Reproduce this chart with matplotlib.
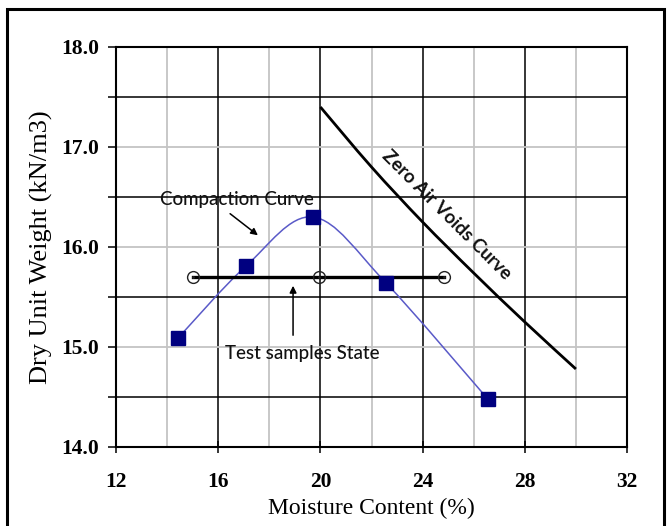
import matplotlib
matplotlib.use("Agg")
import matplotlib.pyplot as plt
from matplotlib.path import Path
from matplotlib.patches import PathPatch, Rectangle

# compaction test points
moisture = [14.43, 17.09, 19.71, 22.57, 26.55]
dry_weight = [15.09, 15.81, 16.30, 15.64, 14.48]

# test samples state
sample_moisture = [15.0, 19.95, 24.85]
sample_weight = [15.70, 15.70, 15.70]

# zero air voids curve
zav_moisture = [20, 22, 24, 26, 28, 30]
zav_weight = [17.40, 16.80, 16.25, 15.74, 15.25, 14.78]

xticks = [12, 16, 20, 24, 28, 32]
yticks = [14.0, 15.0, 16.0, 17.0, 18.0]


def smooth_path(xs, ys):
    # Excel-style smoothed line as cubic bezier segments
    pts = list(zip(xs, ys))
    ext = [pts[0]] + pts + [pts[-1]]
    verts = [pts[0]]
    codes = [Path.MOVETO]
    for i in range(1, len(ext) - 2):
        p0, p1, p2, p3 = ext[i - 1], ext[i], ext[i + 1], ext[i + 2]
        c1 = (p1[0] + (p2[0] - p0[0]) / 6, p1[1] + (p2[1] - p0[1]) / 6)
        c2 = (p2[0] - (p3[0] - p1[0]) / 6, p2[1] - (p3[1] - p1[1]) / 6)
        verts += [c1, c2, p2]
        codes += [Path.CURVE4] * 3
    return Path(verts, codes)


fig = plt.figure(figsize=(6.71, 5.26), dpi=100)
ax = fig.add_axes([116 / 671, 1 - 447 / 526, 511 / 671, 400 / 526])

ax.set_xlim(12, 32)
ax.set_ylim(14, 18)

ax.set_xticks(xticks)
ax.set_xticks([14, 18, 22, 26, 30], minor=True)
ax.set_yticks(yticks)
ax.set_yticks([14.5, 15.5, 16.5, 17.5], minor=True)
ax.set_yticklabels([f"{v:.1f}" for v in yticks])

ax.grid(True, axis="x", which="major", color="black", lw=1.1)
ax.grid(True, axis="x", which="minor", color="#c4c4c4", lw=1.3)
ax.grid(True, axis="y", which="major", color="#c4c4c4", lw=1.3)
ax.grid(True, axis="y", which="minor", color="black", lw=1.1)
ax.set_axisbelow(True)

ax.tick_params(axis="x", which="major", direction="inout", length=8, width=1.1, pad=14)
ax.tick_params(axis="x", which="minor", length=0)
ax.tick_params(axis="y", which="both", direction="out", length=6, width=1.1, pad=6)
for lab in ax.get_xticklabels():
    lab.set_family("Liberation Serif")
    lab.set_fontsize(15.5)
    lab.set_fontweight("bold")
for lab in ax.get_yticklabels():
    lab.set_family("Liberation Serif")
    lab.set_fontsize(15.5)
    lab.set_fontweight("bold")

for s in ax.spines.values():
    s.set_linewidth(1.5)

ax.set_xlabel("Moisture Content (%)", family="Liberation Serif", fontsize=17, labelpad=4)
ax.set_ylabel("Dry Unit Weight (kN/m3)", family="Liberation Serif", fontsize=19, labelpad=6)

# compaction curve
ax.add_patch(PathPatch(smooth_path(moisture, dry_weight), fill=False,
                       edgecolor="#5a5ac8", lw=1.1, zorder=3))
ax.plot(moisture, dry_weight, ls="none", marker="s", ms=10,
        color="#000080", zorder=5)

# zero air voids
ax.add_patch(PathPatch(smooth_path(zav_moisture, zav_weight), fill=False,
                       edgecolor="black", lw=2.0, zorder=3))

# test samples
ax.plot(sample_moisture, sample_weight, color="black", lw=2.4, zorder=4)
ax.plot(sample_moisture, sample_weight, ls="none", marker="o", ms=8.5,
        mfc="none", mec="#222222", mew=1.0, zorder=4)
ax.plot(sample_moisture, sample_weight, ls="none", marker=".", ms=2,
        color="#222222", zorder=4)

tfont = dict(family="Lato", fontsize=13.5, color="#111111", fontweight="medium")
ax.text(16.74, 16.47, "Compaction Curve", ha="center", va="center", **tfont)
ax.annotate("", xy=(17.64, 16.1), xytext=(16.38, 16.35),
            arrowprops=dict(arrowstyle="-|>", color="black", lw=1.1, mutation_scale=10))
ax.text(19.28, 14.94, "Test samples State", ha="center", va="center", **tfont)
ax.annotate("", xy=(18.93, 15.64), xytext=(18.93, 15.09),
            arrowprops=dict(arrowstyle="-|>", color="black", lw=1.1, mutation_scale=10))
ax.text(24.95, 16.32, "Zero Air Voids Curve", ha="center", va="center",
        rotation=-45, family="Lato", fontsize=13.5, fontweight="bold", color="#111111")

fig.patches.append(Rectangle((7 / 671, -0.02), 657 / 671, 1.02 - 9 / 526,
                             transform=fig.transFigure, fill=False,
                             edgecolor="black", lw=2.2))

fig.savefig("out.png", dpi=100)
